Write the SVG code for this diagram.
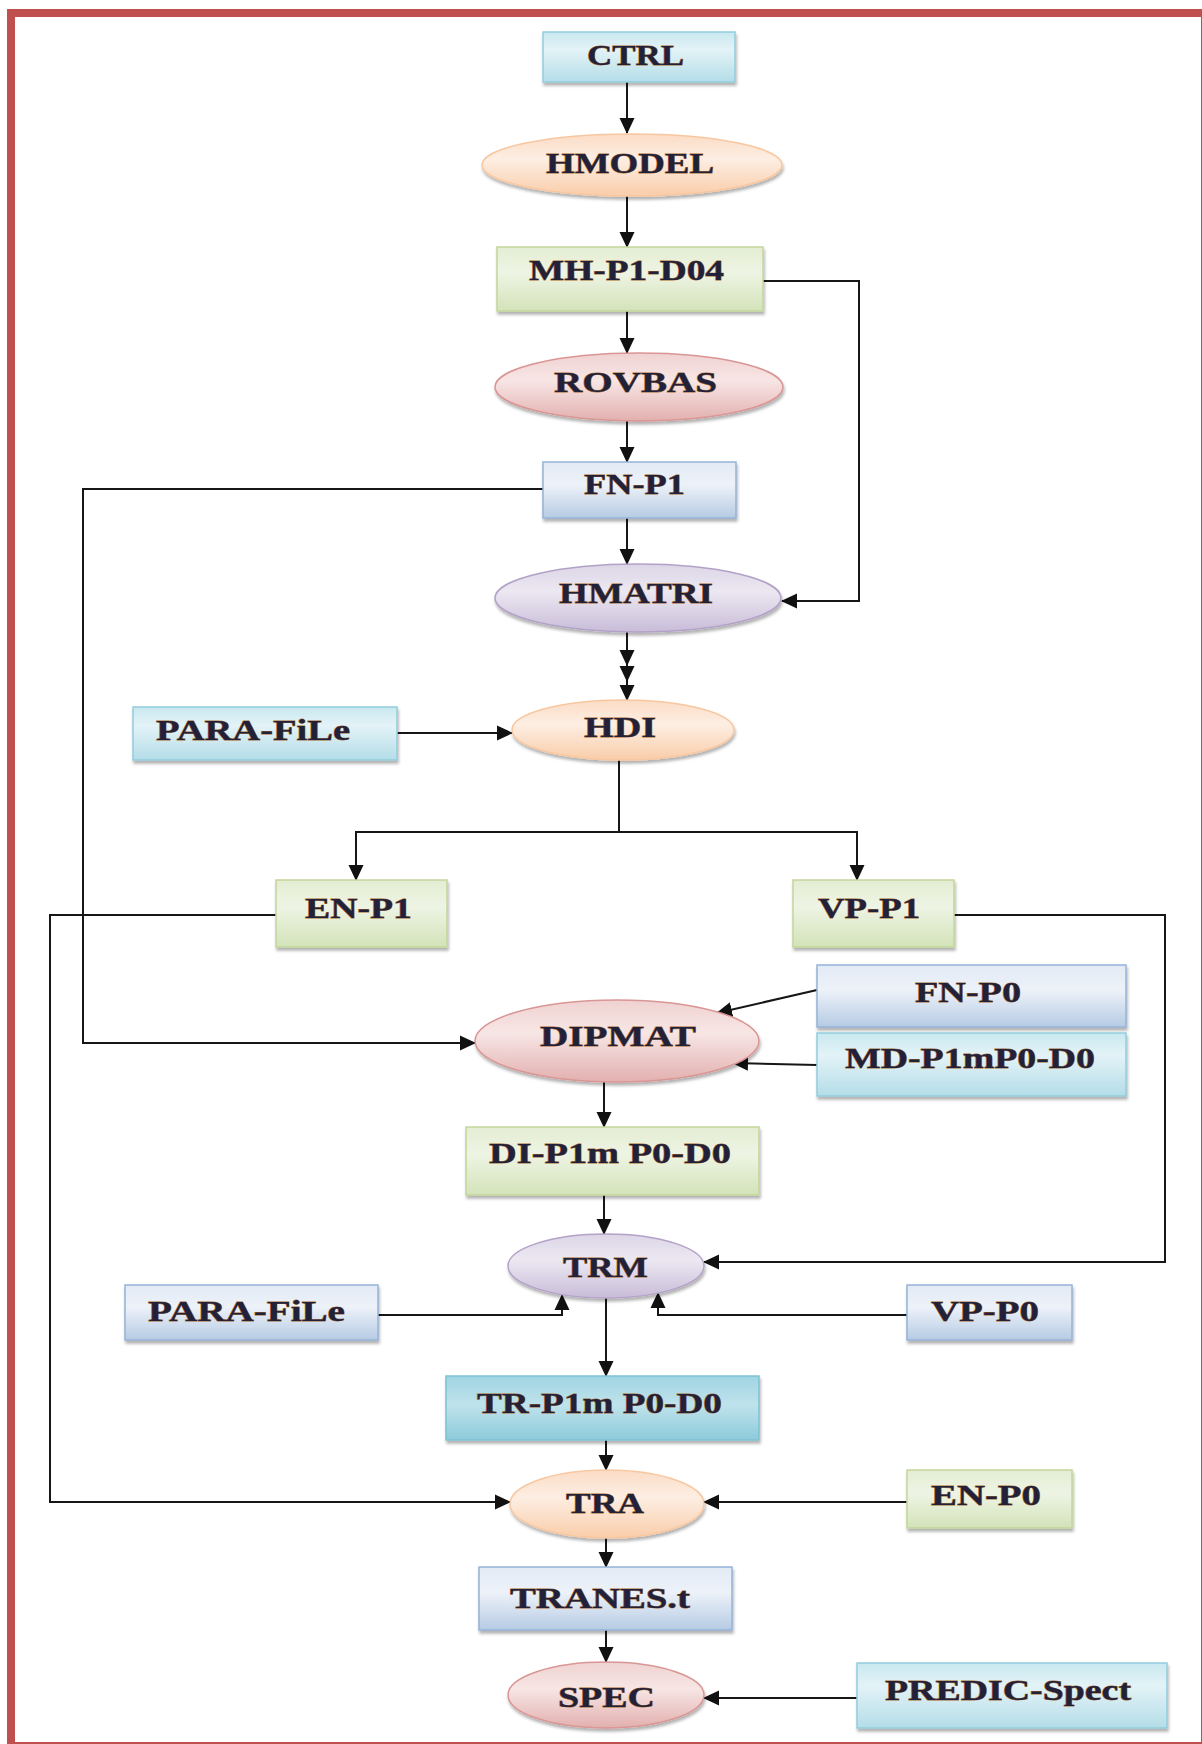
<svg xmlns="http://www.w3.org/2000/svg" width="1202" height="1744" viewBox="0 0 1202 1744">
<defs>
<linearGradient id="gCyan" x1="0" y1="0" x2="0" y2="1">
<stop offset="0" stop-color="#c9e8f0"/><stop offset="0.35" stop-color="#e3f3f7"/><stop offset="1" stop-color="#b4dde8"/>
</linearGradient>
<linearGradient id="gCyan2" x1="0" y1="0" x2="0" y2="1">
<stop offset="0" stop-color="#9fd4e2"/><stop offset="0.45" stop-color="#bfe3ec"/><stop offset="1" stop-color="#8ccadb"/>
</linearGradient>
<linearGradient id="gGreen" x1="0" y1="0" x2="0" y2="1">
<stop offset="0" stop-color="#e4edd3"/><stop offset="0.4" stop-color="#eef4e4"/><stop offset="1" stop-color="#d3e3b9"/>
</linearGradient>
<linearGradient id="gBlue" x1="0" y1="0" x2="0" y2="1">
<stop offset="0" stop-color="#e2eaf5"/><stop offset="0.4" stop-color="#edf2f9"/><stop offset="1" stop-color="#b6cbe4"/>
</linearGradient>
<linearGradient id="gOrange" x1="0" y1="0" x2="0" y2="1">
<stop offset="0" stop-color="#fbdcc5"/><stop offset="0.4" stop-color="#fdeee3"/><stop offset="1" stop-color="#f9cda9"/>
</linearGradient>
<linearGradient id="gPink" x1="0" y1="0" x2="0" y2="1">
<stop offset="0" stop-color="#efd2d1"/><stop offset="0.4" stop-color="#f7e6e5"/><stop offset="1" stop-color="#e2b0af"/>
</linearGradient>
<linearGradient id="gLav" x1="0" y1="0" x2="0" y2="1">
<stop offset="0" stop-color="#dcd5e6"/><stop offset="0.4" stop-color="#ece8f2"/><stop offset="1" stop-color="#c8bcd8"/>
</linearGradient>
<filter id="sh" x="-10%" y="-20%" width="120%" height="150%">
<feDropShadow dx="1" dy="3" stdDeviation="1.5" flood-color="#000" flood-opacity="0.3"/>
</filter>
<marker id="ah" markerUnits="userSpaceOnUse" markerWidth="16" markerHeight="16" viewBox="0 0 16 16" refX="15" refY="8" orient="auto">
<path d="M0,0.5 L16,8 L0,15.5 z" fill="#111"/>
</marker>
</defs>
<style>
.cyan{fill:url(#gCyan);stroke:#93cddd;stroke-width:1.5;filter:url(#sh)}
.cyan2{fill:url(#gCyan2);stroke:#7fc1d4;stroke-width:1.5;filter:url(#sh)}
.green{fill:url(#gGreen);stroke:#c3d69b;stroke-width:1.5;filter:url(#sh)}
.blue{fill:url(#gBlue);stroke:#95b3d7;stroke-width:1.5;filter:url(#sh)}
.orange{fill:url(#gOrange);stroke:#f8c7a0;stroke-width:1.5;filter:url(#sh)}
.pink{fill:url(#gPink);stroke:#d99694;stroke-width:1.5;filter:url(#sh)}
.lav{fill:url(#gLav);stroke:#b3a2c7;stroke-width:1.5;filter:url(#sh)}
text{font-family:"Liberation Serif","Times New Roman",serif;font-weight:bold;font-size:29px;fill:#22213a;stroke:#a8692e;stroke-width:0.8;paint-order:stroke;text-anchor:middle}
.c{fill:none;stroke:#161616;stroke-width:2}
.a{marker-end:url(#ah)}
</style>
<rect id="frame" x="11" y="13" width="1194" height="1733" fill="none" stroke="#c0504d" stroke-width="8"/>
<g id="connectors">
<path class="c a" d="M627,82 V133"/>
<path class="c a" d="M627,196 V247"/>
<path class="c a" d="M627,311 V353"/>
<path class="c a" d="M627,421 V462"/>
<path class="c a" d="M627,518 V564"/>
<path class="c a" d="M763,281 H859 V601 H782"/>
<polyline class="c" points="627,632 627,665 627,681 627,700" marker-mid="url(#ah)" marker-end="url(#ah)"/>
<path class="c a" d="M397,733 H512"/>
<path class="c" d="M619,760 V832"/>
<path class="c a" d="M619,832 H356 V880"/>
<path class="c a" d="M619,832 H857 V880"/>
<path class="c a" d="M543,489 H83 V1043 H475"/>
<path class="c a" d="M276,915 H50 V1502 H510"/>
<path class="c a" d="M954,915 H1165 V1262 H704"/>
<path class="c a" d="M817,990 L717,1013"/>
<path class="c a" d="M817,1065 L733,1063"/>
<path class="c a" d="M604,1082 V1127"/>
<path class="c a" d="M604,1195 V1234"/>
<path class="c a" d="M378,1315 H562 V1295"/>
<path class="c a" d="M907,1315 H658 V1293"/>
<path class="c a" d="M606,1298 V1376"/>
<path class="c a" d="M606,1440 V1470"/>
<path class="c a" d="M907,1502 H704"/>
<path class="c a" d="M606,1538 V1567"/>
<path class="c a" d="M606,1630 V1662"/>
<path class="c a" d="M857,1698 H704"/>
</g>
<g id="ctrl"><rect class="cyan" x="543" y="32" width="192" height="50"/><text x="635.5" y="65" textLength="97" lengthAdjust="spacingAndGlyphs">CTRL</text></g>
<g id="hmodel"><ellipse class="orange" cx="632" cy="165" rx="150" ry="31"/><text x="630" y="173" textLength="168" lengthAdjust="spacingAndGlyphs">HMODEL</text></g>
<g id="mh-p1-d04"><rect class="green" x="497" y="247" width="266" height="64"/><text x="626.5" y="280" textLength="195" lengthAdjust="spacingAndGlyphs">MH-P1-D04</text></g>
<g id="rovbas"><ellipse class="pink" cx="639" cy="387" rx="144" ry="34"/><text x="635.5" y="392" textLength="163" lengthAdjust="spacingAndGlyphs">ROVBAS</text></g>
<g id="fn-p1"><rect class="blue" x="543" y="462" width="193" height="56"/><text x="634.5" y="494" textLength="101" lengthAdjust="spacingAndGlyphs">FN-P1</text></g>
<g id="hmatri"><ellipse class="lav" cx="638" cy="598" rx="143" ry="34"/><text x="636" y="603" textLength="154" lengthAdjust="spacingAndGlyphs">HMATRI</text></g>
<g id="hdi"><ellipse class="orange" cx="623" cy="730" rx="111" ry="30"/><text x="620" y="737" textLength="72" lengthAdjust="spacingAndGlyphs">HDI</text></g>
<g id="para-file-1"><rect class="cyan" x="133" y="707" width="264" height="53"/><text x="253" y="740" textLength="194" lengthAdjust="spacingAndGlyphs">PARA-FiLe</text></g>
<g id="en-p1"><rect class="green" x="276" y="880" width="171" height="67"/><text x="358.5" y="918" textLength="107" lengthAdjust="spacingAndGlyphs">EN-P1</text></g>
<g id="vp-p1"><rect class="green" x="793" y="880" width="161" height="67"/><text x="869" y="918" textLength="102" lengthAdjust="spacingAndGlyphs">VP-P1</text></g>
<g id="fn-p0"><rect class="blue" x="817" y="965" width="309" height="62"/><text x="968" y="1002" textLength="106" lengthAdjust="spacingAndGlyphs">FN-P0</text></g>
<g id="dipmat"><ellipse class="pink" cx="617" cy="1041" rx="142" ry="41"/><text x="618" y="1046" textLength="156" lengthAdjust="spacingAndGlyphs">DIPMAT</text></g>
<g id="md-p1mp0-d0"><rect class="cyan" x="817" y="1033" width="309" height="63"/><text x="970" y="1068" textLength="250" lengthAdjust="spacingAndGlyphs">MD-P1mP0-D0</text></g>
<g id="di-p1m-p0-d0"><rect class="green" x="466" y="1127" width="293" height="68"/><text x="610" y="1163" textLength="242" lengthAdjust="spacingAndGlyphs">DI-P1m P0-D0</text></g>
<g id="trm"><ellipse class="lav" cx="606" cy="1266" rx="98" ry="32"/><text x="605.5" y="1277" textLength="85" lengthAdjust="spacingAndGlyphs">TRM</text></g>
<g id="para-file-2"><rect class="blue" x="125" y="1285" width="253" height="55"/><text x="246.5" y="1321" textLength="197" lengthAdjust="spacingAndGlyphs">PARA-FiLe</text></g>
<g id="vp-p0"><rect class="blue" x="907" y="1285" width="165" height="55"/><text x="985" y="1321" textLength="108" lengthAdjust="spacingAndGlyphs">VP-P0</text></g>
<g id="tr-p1m-p0-d0"><rect class="cyan2" x="446" y="1376" width="313" height="64"/><text x="599.5" y="1413" textLength="245" lengthAdjust="spacingAndGlyphs">TR-P1m P0-D0</text></g>
<g id="tra"><ellipse class="orange" cx="607" cy="1504" rx="97" ry="34"/><text x="605" y="1513" textLength="78" lengthAdjust="spacingAndGlyphs">TRA</text></g>
<g id="en-p0"><rect class="green" x="907" y="1470" width="165" height="58"/><text x="986" y="1505" textLength="110" lengthAdjust="spacingAndGlyphs">EN-P0</text></g>
<g id="tranes-t"><rect class="blue" x="479" y="1567" width="253" height="63"/><text x="600" y="1608" textLength="180" lengthAdjust="spacingAndGlyphs">TRANES.t</text></g>
<g id="spec"><ellipse class="pink" cx="606" cy="1695" rx="98" ry="33"/><text x="606.5" y="1707" textLength="97" lengthAdjust="spacingAndGlyphs">SPEC</text></g>
<g id="predic-spect"><rect class="cyan" x="857" y="1663" width="310" height="65"/><text x="1008" y="1700" textLength="246" lengthAdjust="spacingAndGlyphs">PREDIC-Spect</text></g>
</svg>
